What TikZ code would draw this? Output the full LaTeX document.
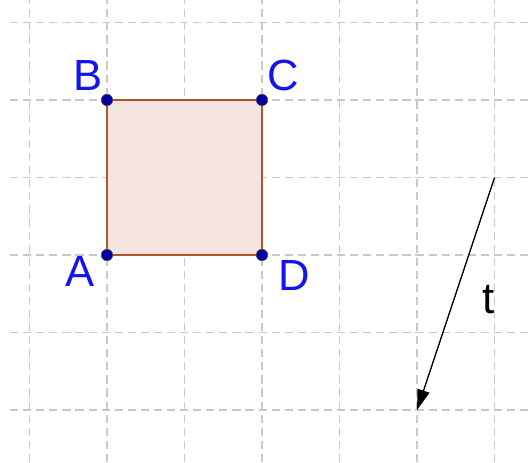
\documentclass[tikz,border=0pt]{standalone}
\usepackage{fontspec}
\setmainfont{Liberation Sans}
\usetikzlibrary{arrows.meta}
\definecolor{gridgray}{RGB}{200,200,200}
\definecolor{polyedge}{RGB}{175,85,40}
\definecolor{polyfill}{RGB}{245,228,224}
\definecolor{ptblue}{RGB}{0,0,160}
\definecolor{lblblue}{RGB}{20,20,240}
\tikzset{
  gridline/.style={gridgray, line width=0.45pt, dash pattern=on 3pt off 1.8pt},
  pt/.style={circle, fill=ptblue, draw=black!70, line width=0.2pt, inner sep=0pt, minimum size=4.2pt},
  lbl/.style={text=lblblue, font=\fontsize{16}{16}\selectfont, inner sep=0pt},
  vec/.style={black, line width=0.5pt, -{Triangle[length=7.5pt,width=4.5pt]}}
}
\begin{document}
\begin{tikzpicture}[x=1cm,y=1cm]
\useasboundingbox (-0.38,-0.67) rectangle (6.47,5.29);
% grid
\foreach \i in {0,...,6} {\draw[gridline] (\i,-0.67) -- (\i,5.29);}
\foreach \j in {0,...,5} {\draw[gridline] (-0.25,\j) -- (6.47,\j);}
% square
\coordinate (a) at (1,2);
\coordinate (b) at (1,4);
\coordinate (c) at (3,4);
\coordinate (d) at (3,2);
\fill[polyfill] (a) -- (b) -- (c) -- (d) -- cycle;
\draw[polyedge, line width=0.55pt] (a) -- (b) -- (c) -- (d) -- cycle;
\node[pt] (A) at (a) {};
\node[pt] (B) at (b) {};
\node[pt] (C) at (c) {};
\node[pt] (D) at (d) {};
\node[lbl] (lA) at (0.65,1.79) {A};
\node[lbl] (lB) at (0.76,4.32) {B};
\node[lbl] (lC) at (3.28,4.32) {C};
\node[lbl] (lD) at (3.41,1.73) {D};
% vector
\coordinate (t0) at (6,3);
\coordinate (t1) at (5,0);
\draw[vec] (t0) -- (t1);
\node[inner sep=0pt, font=\fontsize{16}{16}\selectfont] (lt) at (5.92,1.43) {t};
\end{tikzpicture}
\end{document}
